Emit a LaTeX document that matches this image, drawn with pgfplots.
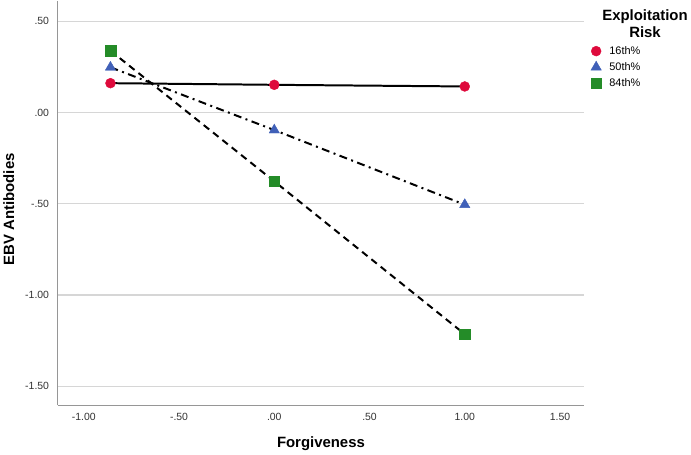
\documentclass[border=0pt]{standalone}
\usepackage{fontspec}
\setmainfont{Liberation Sans}
\usepackage{pgfplots}
\pgfplotsset{compat=1.18}
\definecolor{cred}{RGB}{222,10,60}
\definecolor{cblue}{RGB}{64,96,184}
\definecolor{cgreen}{RGB}{36,140,40}
\definecolor{gridc}{RGB}{214,214,214}
\definecolor{axc}{RGB}{150,150,150}
\begin{document}
\begin{tikzpicture}
\begin{axis}[
  scale only axis,
  width=530pt, height=407pt,
  xmin=-1.138, xmax=1.628,
  ymin=-1.604, ymax=0.614,
  axis x line*=bottom, axis y line*=left,
  axis line style={color=axc, line width=1.1pt, -},
  xtick={-1,-0.5,0,0.5,1,1.5},
  xticklabels={-1.00,-.50,.00,.50,1.00,1.50},
  ytick={-1.5,-1,-0.5,0,0.5},
  yticklabels={-1.50,-1.00,-.50,.00,.50},
  major tick length=0pt,
  tick label style={font=\fontsize{10.5}{12}\selectfont, color=black!80},
  xticklabel style={yshift=-5pt},
  yticklabel style={xshift=-5pt},
  ymajorgrids,
  grid style={color=gridc, line width=1.1pt},
  xlabel={Forgiveness},
  ylabel={EBV Antibodies},
  every axis x label/.style={at={(axis description cs:0.5,0)}, anchor=center, yshift=-39pt, font=\fontsize{15}{17}\selectfont\bfseries},
  every axis y label/.style={at={(axis description cs:0,0.484)}, anchor=center, rotate=90, yshift=49pt, font=\fontsize{15}{17}\selectfont\bfseries},
  legend style={at={(axis description cs:1.012,0.892)}, anchor=north west, draw=none, fill=none,
    font=\fontsize{11}{13}\selectfont, row sep=2.6pt, inner sep=0pt, cells={anchor=west}},
  legend image code/.code={\draw[#1] plot coordinates {(0pt,0pt)};},
  /tikz/every odd column/.append style={column sep=6pt},
]
% markers
\addplot[only marks, mark=*, mark size=5pt, color=cred, mark options={draw=cred, fill=cred}] coordinates {(-0.86,0.161) (0,0.152) (1.0,0.143)};
\addlegendentry{16th\%}
\addplot[only marks, mark=triangle*, mark size=6pt, color=cblue, mark options={draw=cblue, fill=cblue}] coordinates {(-0.86,0.248) (0,-0.096) (1.0,-0.505)};
\addlegendentry{50th\%}
\addplot[only marks, mark=square*, mark size=5.3pt, color=cgreen, mark options={draw=cgreen, fill=cgreen}] coordinates {(-0.86,0.339) (0,-0.377) (1.0,-1.215)};
\addlegendentry{84th\%}
% lines
\addplot[forget plot, black, line width=2pt, solid] coordinates {(-0.86,0.161) (0,0.152) (1.0,0.143)};
\addplot[forget plot, black, line width=2pt, dash pattern=on 8pt off 4.5pt on 2pt off 4.5pt] coordinates {(-0.86,0.248) (0,-0.096) (1.0,-0.505)};
\addplot[forget plot, black, line width=2pt, dash pattern=on 7pt off 5pt] coordinates {(-0.86,0.339) (0,-0.377) (1.0,-1.215)};
\end{axis}
\node[align=center, font=\fontsize{15}{17}\selectfont\bfseries, anchor=center] at (591pt,383.5pt) {Exploitation\\Risk};
\path[use as bounding box] (-57pt,-50pt) rectangle (634pt,407pt);
\end{tikzpicture}
\end{document}
